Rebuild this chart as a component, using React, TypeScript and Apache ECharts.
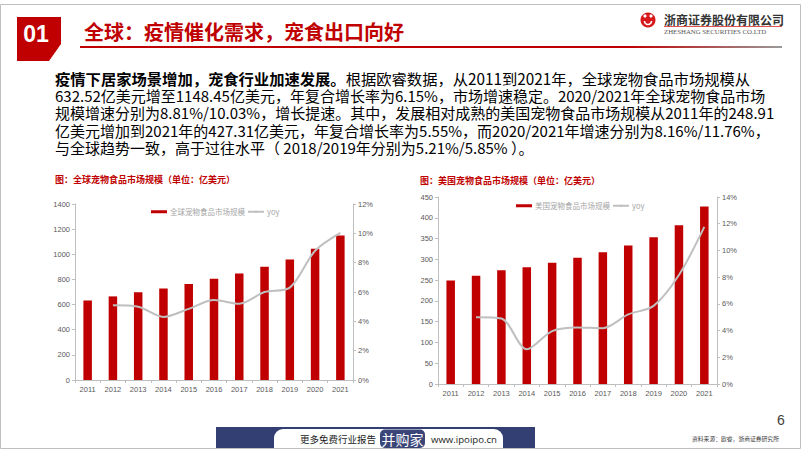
import React, { useEffect, useRef } from "react";
import * as echarts from "echarts";

const years = ["2011", "2012", "2013", "2014", "2015", "2016", "2017", "2018", "2019", "2020", "2021"];
const globalSize = [632.52, 665, 698, 728, 763, 806, 848, 901, 959, 1043.8, 1148.45];
const globalYoy = [null, 5.1, 5.0, 4.3, 4.85, 5.45, 5.2, 6.0, 6.3, 8.81, 10.03];
const usSize = [248.91, 260.5, 274, 281, 292, 304, 317, 333.5, 353, 382.3, 427.31];
const usYoy = [null, 5.0, 4.9, 2.6, 3.96, 4.23, 4.18, 5.21, 5.85, 8.16, 11.76];

const leftTicksMax = 1400;
const leftTicksStep = 200;
const rightTicksMax = 12;
const usTicksMax = 450;
const usTicksStep = 50;
const usRightMax = 14;

const titleText = "全球：疫情催化需求，宠食出口向好";
const paraBold = "疫情下居家场景增加，宠食行业加速发展。";
const paraLines = [
  "根据欧睿数据，从2011到2021年，全球宠物食品市场规模从",
  "632.52亿美元增至1148.45亿美元，年复合增长率为6.15%，市场增速稳定。2020/2021年全球宠物食品市场",
  "规模增速分别为8.81%/10.03%，增长提速。其中，发展相对成熟的美国宠物食品市场规模从2011年的248.91",
  "亿美元增加到2021年的427.31亿美元，年复合增长率为5.55%，而2020/2021年增速分别为8.16%/11.76%，",
  "与全球趋势一致，高于过往水平（ 2018/2019年分别为5.21%/5.85% ）。",
];
const chartTitle1 = "图：全球宠物食品市场规模（单位：亿美元）";
const chartTitle2 = "图：美国宠物食品市场规模（单位：亿美元）";
const seriesName1 = "全球宠物食品市场规模";
const seriesName2 = "美国宠物食品市场规模";

const RED = "#C00000";
const CJK = "'Noto Sans CJK SC', 'Noto Sans', sans-serif";
const LAT = "'Liberation Sans', Arial, sans-serif";

const plain = (v: number) => String(v);

function axisCommon() {
  return {
    axisLine: { show: true, lineStyle: { color: "#BFBFBF", width: 1 } },
    axisTick: { show: true, length: 3, lineStyle: { color: "#BFBFBF" } },
    axisLabel: { color: "#595959", fontSize: 7.5, fontFamily: LAT, margin: 5, formatter: plain },
    splitLine: { show: false },
  };
}

export default function App() {
  const ref = useRef<HTMLDivElement>(null);
  useEffect(() => {
    if (!ref.current) return;
    const chart = echarts.init(ref.current, undefined, { renderer: "svg" });
    const graphics: any[] = [];
    graphics.push({
      type: "rect",
      shape: { x: 0.5, y: 4.5, width: 800, height: 444 },
      style: { fill: "none", stroke: "#BFBFBF", lineWidth: 1 },
      silent: true,
    });
    graphics.push({
      type: "polygon",
      shape: { points: [[17, 17], [61, 17], [61, 44], [49, 61], [17, 61]] },
      style: { fill: RED },
    });
    graphics.push({
      type: "text",
      x: 36,
      y: 34,
      style: { text: "01", fill: "#fff", fontSize: 23, fontWeight: "bold", fontFamily: LAT, align: "center", verticalAlign: "middle" },
    });
    graphics.push({
      type: "text",
      x: 84,
      y: 31,
      style: { text: titleText, fill: RED, fontSize: 20, fontWeight: "bold", fontFamily: CJK, align: "left", verticalAlign: "middle" },
    });
    graphics.push({
      type: "rect",
      shape: { x: 80, y: 46, width: 702, height: 2 },
      style: {
        fill: new echarts.graphic.LinearGradient(0, 0, 1, 0, [
          { offset: 0, color: RED },
          { offset: 0.78, color: RED },
          { offset: 1, color: "#9A9A9A" },
        ]),
      },
    });
    // logo
    graphics.push({ type: "circle", shape: { cx: 648, cy: 20, r: 7.5 }, style: { fill: "#D7191C" } });
    graphics.push({ type: "arc", shape: { cx: 648, cy: 21, r: 3.5, startAngle: 0, endAngle: Math.PI }, style: { stroke: "#fff", lineWidth: 1.6, fill: "none" } });
    graphics.push({ type: "circle", shape: { cx: 645, cy: 16, r: 1.6 }, style: { fill: "#fff" } });
    graphics.push({ type: "circle", shape: { cx: 651, cy: 16, r: 1.6 }, style: { fill: "#fff" } });
    graphics.push({
      type: "text",
      x: 664,
      y: 19,
      style: { text: "浙商证券股份有限公司", fill: "#333", fontSize: 12, fontFamily: CJK, fontWeight: "bold", align: "left", verticalAlign: "middle" },
    });
    graphics.push({ type: "rect", shape: { x: 664, y: 26, width: 118, height: 0.8 }, style: { fill: "#D7191C" } });
    graphics.push({
      type: "text",
      x: 664,
      y: 31,
      style: { text: "ZHESHANG SECURITIES CO.LTD", fill: "#555", fontSize: 6.8, fontFamily: "'Liberation Serif', serif", align: "left", verticalAlign: "middle" },
    });
    // paragraph as one multi-line rich text
    const LH = 17.5;
    const richText =
      `{b|${paraBold}}{f|${paraLines[0]}}\n` +
      paraLines.slice(1).map((l) => `{n|${l}}`).join("\n");
    graphics.push({
      type: "text",
      x: 55,
      y: 77.5 - LH / 2,
      style: {
        text: richText,
        rich: {
          b: { fontSize: 15.3, fontWeight: "bold", fontFamily: CJK, fill: "#000", lineHeight: LH },
          f: { fontSize: 15.3, fontFamily: CJK, fill: "#000", lineHeight: LH },
          n: { fontSize: 15, fontFamily: CJK, fill: "#000", lineHeight: LH },
        },
        lineHeight: LH,
        align: "left",
        verticalAlign: "top",
      },
    });
    graphics.push({
      type: "text",
      x: 55,
      y: 179,
      style: { text: chartTitle1, fill: RED, fontSize: 9, fontWeight: "bold", fontFamily: CJK, align: "left", verticalAlign: "middle" },
    });
    graphics.push({
      type: "text",
      x: 420,
      y: 180,
      style: { text: chartTitle2, fill: RED, fontSize: 9, fontWeight: "bold", fontFamily: CJK, align: "left", verticalAlign: "middle" },
    });
    // footer
    graphics.push({ type: "rect", shape: { x: 216, y: 427, width: 319, height: 21 }, style: { fill: "#333F72" } });
    graphics.push({ type: "rect", shape: { x: 274, y: 429, width: 229, height: 19, r: [9, 9, 0, 0] }, style: { fill: "#fff" } });
    graphics.push({
      type: "text",
      x: 300,
      y: 439,
      style: { text: "更多免费行业报告", fill: "#222", fontSize: 9.5, fontFamily: CJK, align: "left", verticalAlign: "middle" },
    });
    graphics.push({ type: "rect", shape: { x: 380, y: 429.5, width: 45, height: 18.5, r: 5 }, style: { fill: "#3A4578" } });
    graphics.push({
      type: "text",
      x: 402.5,
      y: 439,
      style: { text: "并购家", fill: "#fff", fontSize: 14, fontFamily: CJK, align: "center", verticalAlign: "middle" },
    });
    graphics.push({
      type: "text",
      x: 431,
      y: 439,
      style: { text: "www.ipoipo.cn", fill: "#222", fontSize: 9.6, fontFamily: "'Open Sans', sans-serif", align: "left", verticalAlign: "middle" },
    });
    graphics.push({
      type: "text",
      x: 777,
      y: 420,
      style: { text: "6", fill: "#404040", fontSize: 14, fontFamily: LAT, align: "left", verticalAlign: "middle" },
    });
    graphics.push({
      type: "text",
      x: 692,
      y: 438,
      style: { text: "资料来源：欧睿，浙商证券研究所", fill: "#404040", fontSize: 5.8, fontFamily: CJK, align: "left", verticalAlign: "middle" },
    });

    const lineStyle = { color: "#BFBFBF", width: 2 };
    const xLabel = { color: "#595959", fontSize: 7.5, fontFamily: LAT, margin: 5, interval: 0 };
    const xTick = { show: true, length: 3, interval: 0, lineStyle: { color: "#BFBFBF" } };
    const pctLabel = { color: "#595959", fontSize: 7.5, fontFamily: LAT, margin: 5, formatter: "{value}%" };
    const legendText = { fontSize: 7.5, color: "#A6A6A6", fontFamily: CJK, padding: [0, 0, 0, -2] };
    const option: any = {
      animation: false,
      backgroundColor: "#fff",
      grid: [
        { left: 75, top: 204, width: 278, height: 176 },
        { left: 438, top: 197, width: 279, height: 187 },
      ],
      legend: [
        {
          left: 146,
          top: 203,
          itemWidth: 16,
          itemHeight: 3,
          itemGap: 2,
          textStyle: legendText,
          data: [{ name: seriesName1, icon: "rect" }, { name: "yoy" }],
        },
        {
          left: 511,
          top: 197,
          itemWidth: 16,
          itemHeight: 3,
          itemGap: 2,
          textStyle: legendText,
          data: [{ name: seriesName2, icon: "rect" }, { name: "yoy" }],
        },
      ],
      xAxis: [
        { type: "category", gridIndex: 0, data: years, ...axisCommon(), axisLabel: xLabel, axisTick: xTick },
        { type: "category", gridIndex: 1, data: years, ...axisCommon(), axisLabel: xLabel, axisTick: xTick },
      ],
      yAxis: [
        { type: "value", gridIndex: 0, min: 0, max: leftTicksMax, interval: leftTicksStep, ...axisCommon() },
        { type: "value", gridIndex: 0, position: "right", min: 0, max: rightTicksMax, interval: 2, ...axisCommon(), axisLabel: pctLabel },
        { type: "value", gridIndex: 1, min: 0, max: usTicksMax, interval: usTicksStep, ...axisCommon() },
        { type: "value", gridIndex: 1, position: "right", min: 0, max: usRightMax, interval: 2, ...axisCommon(), axisLabel: pctLabel },
      ],
      series: [
        { name: seriesName1, type: "bar", xAxisIndex: 0, yAxisIndex: 0, data: globalSize, barWidth: 8.5, itemStyle: { color: RED } },
        { name: "yoy", type: "line", xAxisIndex: 0, yAxisIndex: 1, data: globalYoy, symbol: "none", smooth: 0.3, lineStyle, itemStyle: { color: "#BFBFBF" } },
        { name: seriesName2, type: "bar", xAxisIndex: 1, yAxisIndex: 2, data: usSize, barWidth: 8.5, itemStyle: { color: RED } },
        { name: "yoy", type: "line", xAxisIndex: 1, yAxisIndex: 3, data: usYoy, symbol: "none", smooth: 0.3, lineStyle, itemStyle: { color: "#BFBFBF" } },
      ],
      graphic: graphics,
    };
    chart.setOption(option);
    return () => chart.dispose();
  }, []);
  return <div ref={ref} style={{ position: "absolute", left: 0, top: 0, width: 802, height: 451 }} />;
}
